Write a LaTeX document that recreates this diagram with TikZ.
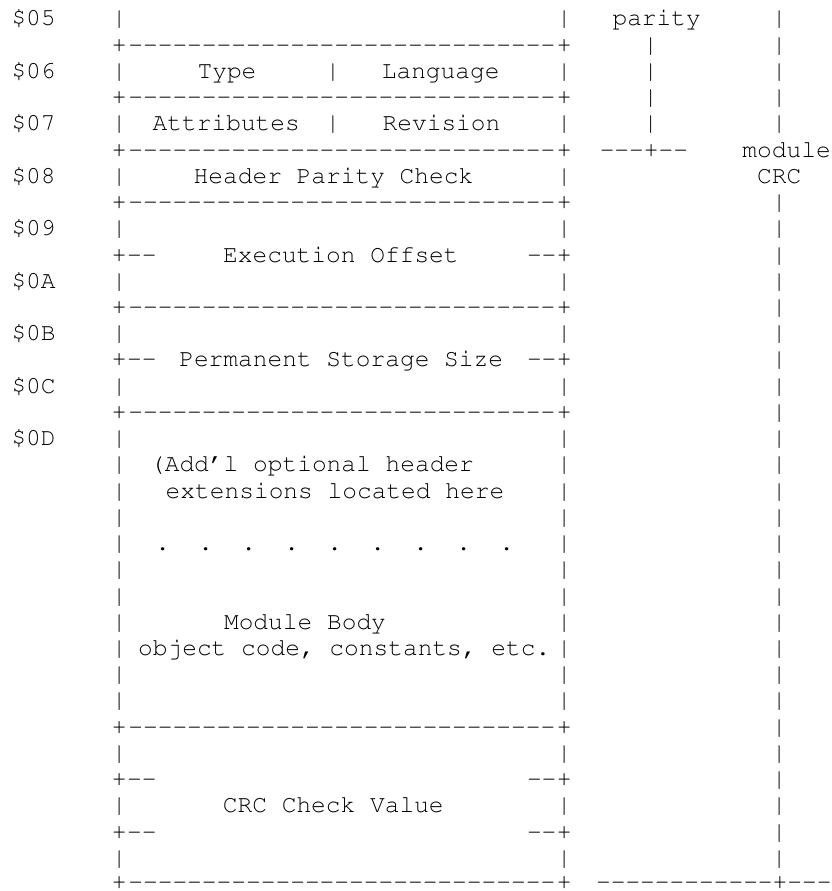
\documentclass[tikz,border=0pt]{standalone}
\usepackage[T1]{fontenc}

\tikzset{every picture/.style={line width=0.75pt}}
\tikzset{
  mono/.style={inner sep=0pt, font=\fontfamily{pcr}\fontsize{18.4}{22}\selectfont},
}
% a run of hyphens that never turns into a dash ligature
\newcommand{\dashes}[1]{\foreach \d in {1,...,#1}{-}}

\begin{document}
\begin{tikzpicture}[x=0.75pt,y=0.75pt,yscale=-1,xscale=1,every node/.style={mono}]
	\useasboundingbox (0,0) rectangle (831,891);
	
	% Address column
	\foreach \r/\a in {1/05,3/06,5/07,7/08,9/09,11/0A,13/0B,15/0C,17/0D}
	  \node (addr\a) [anchor=base west] at (11,{26+(\r-1)*26.23}) {\$\a};
	
	% Box sides
	\foreach \r in {1,3,5,7,9,11,13,15,17,18,19,20,21,22,23,24,25,26,27,29,31,33} {
	  \node (bl\r) [anchor=base] at (119.3,{26+(\r-1)*26.23}) {|};
	  \node (br\r) [anchor=base] at (564.3,{26+(\r-1)*26.23}) {|};
	}
	% Box corners
	\foreach \r in {2,4,6,8,10,12,14,16,28,30,32} {
	  \node (cl\r) [anchor=base] at (119.3,{26+(\r-1)*26.23}) {+};
	  \node (cr\r) [anchor=base] at (564.3,{26+(\r-1)*26.23}) {+};
	}
	\node (cl34) [anchor=base] at (119.3,889.5) {+};
	\node (cr34) [anchor=base] at (564.3,889.5) {+};
	% Full rules
	\foreach \r in {2,4,6,8,12,16,28}
	  \node (rule\r) [anchor=base] at (341.8,{26+(\r-1)*26.23}) {\dashes{29}};
	\node (rule34) [anchor=base] at (341.8,889.5) {\dashes{29}};
	% Split rules of the two-byte fields
	\foreach \r in {10,14,30,32} {
	  \node (tl\r) [anchor=base west] at (126.65,{26+(\r-1)*26.23}) {\dashes{2}};
	  \node (tr\r) [anchor=base east] at (556.95,{26+(\r-1)*26.23}) {\dashes{2}};
	}
	
	% Field names
	\node (type) [anchor=base] at (227,78.46) {Type};
	\node (sep3) [anchor=base] at (333,78.46) {|};
	\node (lang) [anchor=base] at (440.7,78.46) {Language};
	\node (attr) [anchor=base] at (226.3,130.92) {Attributes};
	\node (sep5) [anchor=base] at (333,130.92) {|};
	\node (rev) [anchor=base] at (441.5,130.92) {Revision};
	\node (hpc) [anchor=base] at (333.5,183.38) {Header Parity Check};
	\node (exec) [anchor=base] at (340.9,262.07) {Execution Offset};
	\node (perm) [anchor=base] at (341.2,366.99) {Permanent Storage Size};
	\node (ext1) [anchor=base] at (312,471.91) {(Add'l optional header};
	\node (ext2) [anchor=base] at (335,498.14) {extensions located here};
	\foreach \k in {0,...,8}
	  \node (dot\k) [anchor=base] at ({162.7+43*\k},550.6) {.};
	\node (body) [anchor=base] at (305,629.29) {Module Body};
	\node (code) [anchor=base] at (344.2,655.52) {object code, constants, etc.};
	\node (crcv) [anchor=base] at (333.3,812.9) {CRC Check Value};
	
	% Parity span
	\node (par) [anchor=base] at (656.7,26) {parity};
	\foreach \r in {2,...,5}
	  \node (pb\r) [anchor=base] at (650.7,{26+(\r-1)*26.23}) {|};
	\node (pend) [anchor=base west] at (599.25,157.15) {\dashes{3}+\dashes{2}};
	
	% Module CRC span
	\foreach \r in {1,...,5,8,9,...,33}
	  \node (mb\r) [anchor=base] at (779.3,{26+(\r-1)*26.23}) {|};
	\node (mod) [anchor=base] at (786.6,157.15) {module};
	\node (crc) [anchor=base] at (779.3,183.38) {CRC};
	\node (mend) [anchor=base west] at (595.55,889.5) {\dashes{12}+\dashes{3}};
	
\end{tikzpicture}
\end{document}
